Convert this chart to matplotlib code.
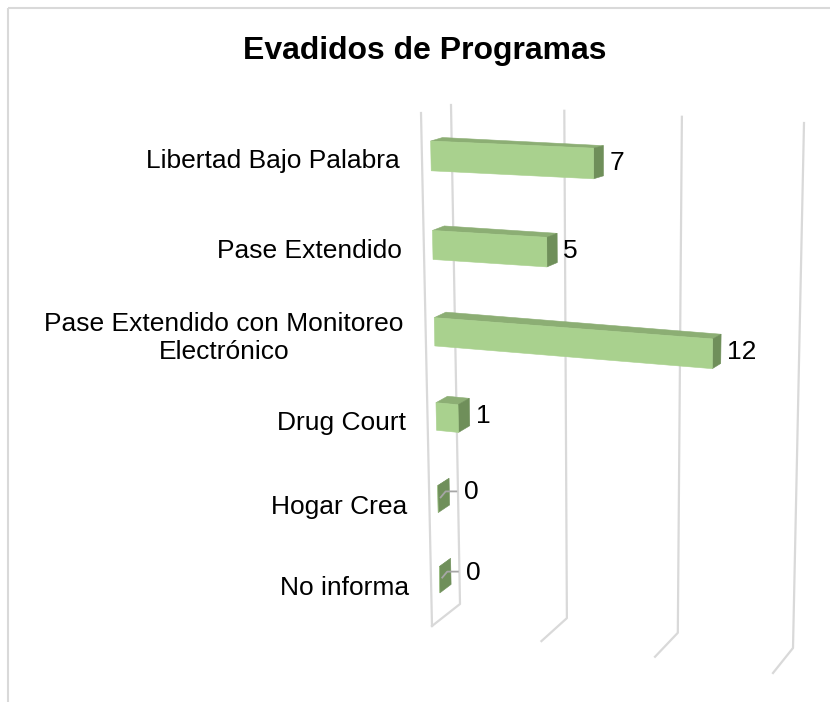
import matplotlib
matplotlib.use("Agg")
import matplotlib.pyplot as plt
from matplotlib.patches import Polygon
import numpy as np

# ---------------- data ----------------
title = "Evadidos de Programas"
categories = ["Libertad Bajo Palabra", "Pase Extendido",
              "Pase Extendido con Monitoreo\nElectrónico",
              "Drug Court", "Hogar Crea", "No informa"]
values = [7, 5, 12, 1, 0, 0]
value_ticks = [0, 5, 10, 15]

# ---------------- styling ----------------
FONT = ["Liberation Sans", "DejaVu Sans"]
FRONT_C = "#A9D18E"
TOP_C = "#8CAE74"
SIDE_C = "#6F8F5A"
GRID_C = "#D9D9D9"

W, H = 830, 702
fig = plt.figure(figsize=(W / 100, H / 100), dpi=100)
ax = fig.add_axes([0, 0, 1, 1])
ax.set_xlim(0, W)
ax.set_ylim(H, 0)
ax.axis("off")

# ---------------- 3D-like projection (Excel perspective look) ----------------
VMAX = value_ticks[-1]
NCAT = len(categories)
BACK = {(0, 0): (451, 105), (1, 0): (804, 123), (0, 1): (460, 604), (1, 1): (793, 648)}
FRNT = {(0, 0): (421, 113), (1, 0): (786, 125), (0, 1): (432, 626), (1, 1): (773, 673)}
KU, KS = -0.0545, 0.077
D_BACK, D_FRONT = 0.3, 0.7      # bar depth extent
HALF = 0.165                    # half bar thickness (category units)


def warp(t, k):
    return t * (1 + k) / (1 + k * t)


def proj(v, c, d):
    u = warp(v / VMAX, KU)
    s = warp(c / NCAT, KS)

    def bil(C):
        top = (1 - u) * np.array(C[(0, 0)], float) + u * np.array(C[(1, 0)], float)
        bot = (1 - u) * np.array(C[(0, 1)], float) + u * np.array(C[(1, 1)], float)
        return (1 - s) * top + s * bot
    return (1 - d) * bil(BACK) + d * bil(FRNT)


# chart border (top / left)
ax.plot([8, 8], [H, 8], color=GRID_C, lw=1.5, solid_capstyle="butt", zorder=0)
ax.plot([8, W], [8, 8], color=GRID_C, lw=1.5, solid_capstyle="butt", zorder=0)

# back-wall + floor gridlines
for t in value_ticks:
    pts = np.array([proj(t, 0, 0), proj(t, NCAT, 0), proj(t, NCAT, 1)])
    ax.plot(pts[:, 0], pts[:, 1], color=GRID_C, lw=1.6, zorder=1)

# bars
for i, (cat, val) in enumerate(zip(categories, values)):
    c0, c1 = i + 0.5 - HALF, i + 0.5 + HALF
    top = [proj(0, c0, D_BACK), proj(val, c0, D_BACK), proj(val, c0, D_FRONT), proj(0, c0, D_FRONT)]
    side = [proj(val, c0, D_FRONT), proj(val, c0, D_BACK), proj(val, c1, D_BACK), proj(val, c1, D_FRONT)]
    front = [proj(0, c0, D_FRONT), proj(val, c0, D_FRONT), proj(val, c1, D_FRONT), proj(0, c1, D_FRONT)]
    for poly, col in ((top, TOP_C), (side, SIDE_C), (front, FRONT_C)):
        ax.add_patch(Polygon(poly, closed=True, facecolor=col, edgecolor=col, lw=0.4, zorder=3))

    # value labels
    cc = proj(val, i + 0.5, 0.5)
    xr = proj(val, i + 0.5, D_BACK)[0]
    if val > 0:
        ax.text(xr + 6, cc[1] + 1, f"{val}", ha="left", va="center", fontsize=19,
                family=FONT, color="black", zorder=5)
    else:
        lx, ly = xr + 15, cc[1] - 4
        ax.plot([cc[0] - 3, cc[0] + 2, lx - 8], [cc[1] + 2, ly, ly], color="#A6A6A6", lw=1.3, zorder=4)
        ax.text(lx, ly + 1, f"{val}", ha="left", va="center", fontsize=19,
                family=FONT, color="black", zorder=5)

    # category labels
    p = proj(0, i + 0.5, 1)
    ax.text(p[0] - 22, p[1] + 2, cat, ha="right", va="center", multialignment="center",
            fontsize=19, family=FONT, color="black", linespacing=1.25, zorder=5)

# front edge of side wall
pts = np.array([proj(0, 0, 1), proj(0, NCAT, 1)])
ax.plot(pts[:, 0], pts[:, 1], color=GRID_C, lw=1.6, zorder=4)

# title
ax.text(425, 51, title, ha="center", va="center", fontsize=23, fontweight="bold",
        family=FONT, color="black")

fig.savefig("out.png", dpi=100)
